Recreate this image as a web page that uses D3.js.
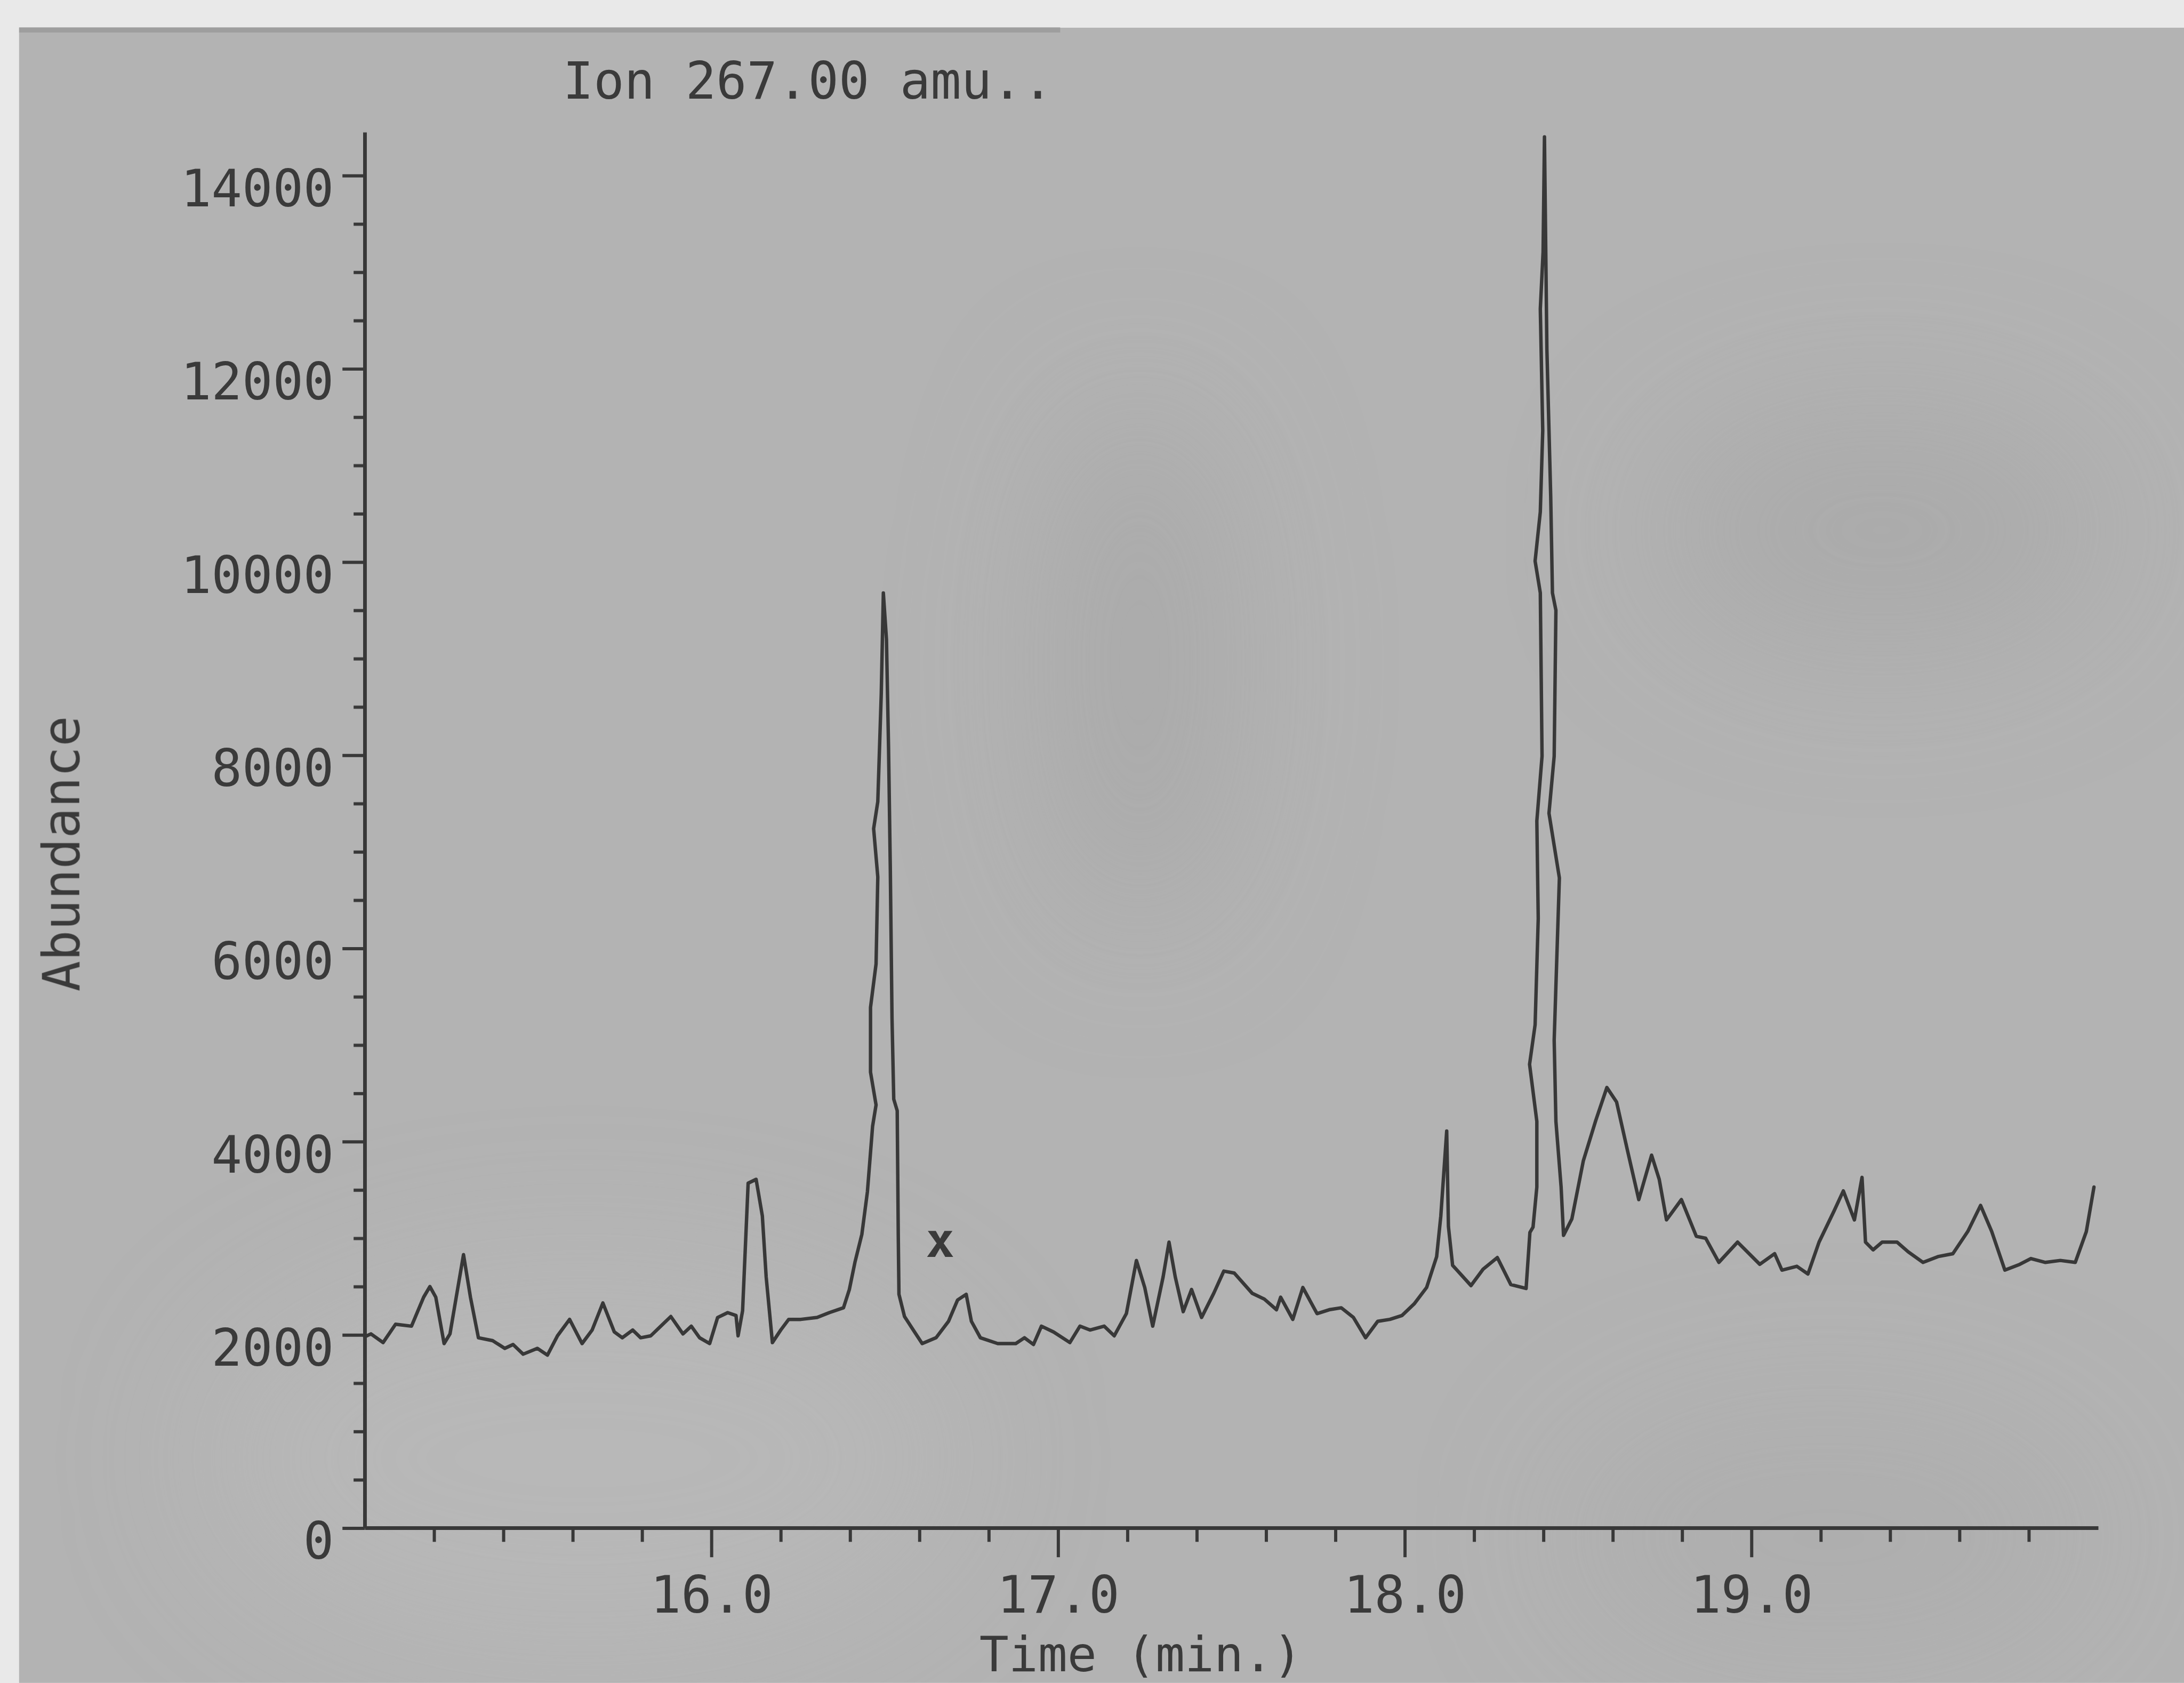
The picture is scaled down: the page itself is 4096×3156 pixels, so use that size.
<!DOCTYPE html>
<html>
<head>
<meta charset="utf-8">
<script src="https://cdn.jsdelivr.net/npm/d3@7"></script>
<style>
  html, body { margin: 0; padding: 0; background: #e9e9e9; overflow: hidden; }
  svg { display: block; }
  text { font-family: "DejaVu Sans Mono", "Liberation Mono", monospace; fill: #3a3a3a; }
</style>
</head>
<body>
<svg id="chart" width="4096" height="3156" viewBox="0 0 4120 3174"></svg>
<script>
// ---- data ----
const title = "Ion 267.00 amu..";
const xTitle = "Time (min.)";
const yTitle = "Abundance";

const time = [
  15.00, 15.018, 15.053, 15.089, 15.135, 15.17, 15.188, 15.205, 15.229, 15.246,
  15.264, 15.285, 15.305, 15.328, 15.369, 15.404, 15.428, 15.457, 15.498, 15.527,
  15.556, 15.591, 15.627, 15.656, 15.687, 15.72, 15.743, 15.773, 15.796, 15.825,
  15.854, 15.883, 15.918, 15.942, 15.966, 15.995, 16.018, 16.047, 16.071, 16.077,
  16.09, 16.106, 16.129, 16.147, 16.158, 16.176, 16.2, 16.223, 16.258, 16.305,
  16.34, 16.381, 16.398, 16.414, 16.434, 16.45, 16.465, 16.475, 16.459, 16.459,
  16.475, 16.48, 16.468, 16.48, 16.49, 16.496, 16.505, 16.511, 16.516, 16.521,
  16.526, 16.536, 16.539, 16.541, 16.557, 16.577, 16.608, 16.648, 16.684, 16.71,
  16.735, 16.75, 16.776, 16.826, 16.878, 16.903, 16.929, 16.952, 16.987, 17.034,
  17.063, 17.092, 17.133, 17.162, 17.197, 17.226, 17.25, 17.273, 17.303, 17.32,
  17.338, 17.361, 17.385, 17.414, 17.449, 17.478, 17.508, 17.56, 17.595, 17.63,
  17.642, 17.677, 17.706, 17.747, 17.782, 17.817, 17.852, 17.887, 17.922, 17.957,
  17.992, 18.027, 18.063, 18.092, 18.104, 18.121, 18.126, 18.138, 18.191, 18.226,
  18.267, 18.306, 18.35, 18.361, 18.37, 18.381, 18.381, 18.36, 18.376, 18.385,
  18.381, 18.396, 18.391, 18.376, 18.391, 18.398, 18.391, 18.399, 18.403, 18.41,
  18.421, 18.426, 18.436, 18.431, 18.416, 18.446, 18.431, 18.436, 18.451, 18.458,
  18.482, 18.515, 18.551, 18.583, 18.611, 18.643, 18.675, 18.712, 18.734, 18.755,
  18.798, 18.841, 18.868, 18.906, 18.96, 19.024, 19.067, 19.088, 19.131, 19.163,
  19.195, 19.238, 19.265, 19.297, 19.319, 19.329, 19.351, 19.377, 19.42, 19.452,
  19.495, 19.538, 19.581, 19.624, 19.661, 19.693, 19.731, 19.774, 19.806, 19.848,
  19.891, 19.934, 19.966, 19.988
];
const abundance = [
  1980, 2010, 1920, 2110, 2090, 2390, 2500, 2390, 1910, 2010,
  2390, 2830, 2390, 1970, 1940, 1860, 1900, 1800, 1860, 1790,
  1990, 2160, 1910, 2050, 2330, 2030, 1970, 2050, 1970, 1990,
  2090, 2190, 2010, 2090, 1970, 1910, 2180, 2230, 2200, 1990,
  2250, 3570, 3610, 3230, 2600, 1920, 2050, 2160, 2160, 2180,
  2230, 2280, 2470, 2750, 3040, 3480, 4160, 4380, 4720, 5390,
  5840, 6740, 7240, 7520, 8640, 9680, 9200, 8080, 6850, 5280,
  4440, 4320, 3040, 2420, 2190, 2080, 1910, 1970, 2140, 2360,
  2420, 2140, 1970, 1910, 1910, 1970, 1900, 2090, 2030, 1920,
  2090, 2050, 2090, 1990, 2220, 2770, 2490, 2090, 2600, 2960,
  2600, 2240, 2470, 2180, 2430, 2660, 2640, 2430, 2370, 2260,
  2390, 2160, 2490, 2220, 2260, 2280, 2180, 1970, 2140, 2160,
  2200, 2320, 2490, 2810, 3230, 4110, 3120, 2720, 2510, 2680,
  2800, 2520, 2480, 3060, 3115, 3530, 4210, 4800, 5210, 6310,
  7320, 7990, 9680, 10010, 10520, 11360, 12620, 13210, 14400, 12200,
  10680, 9680, 9500, 7990, 7400, 6730, 5050, 4210, 3530, 3030,
  3200, 3800, 4220, 4560, 4410, 3900, 3400, 3860, 3610, 3190,
  3400, 3020, 3000, 2750, 2960, 2730, 2840, 2670, 2710, 2630,
  2960, 3280, 3490, 3190, 3630, 2960, 2880, 2960, 2960, 2860,
  2750, 2810, 2840, 3070, 3340, 3070, 2670, 2730, 2790, 2750,
  2770, 2750, 3070, 3530
];

const yMajorTicks = [0, 2000, 4000, 6000, 8000, 10000, 12000, 14000];
const yTickLabels = ["0", "2000", "4000", "6000", "8000", "10000", "12000", "14000"];
const yMinorTicks = [500, 1000, 1500, 2500, 3000, 3500, 4500, 5000, 5500, 6500, 7000, 7500,
                     8500, 9000, 9500, 10500, 11000, 11500, 12500, 13000, 13500];
const xMajorTicks = [16, 17, 18, 19];
const xTickLabels = ["16.0", "17.0", "18.0", "19.0"];
const xMinorTicks = [15.2, 15.4, 15.6, 15.8, 16.2, 16.4, 16.6, 16.8, 17.2, 17.4, 17.6, 17.8,
                     18.2, 18.4, 18.6, 18.8, 19.2, 19.4, 19.6, 19.8];
// hand-written mark near the first large peak
const marks = [{ t: 16.66, v: 2960, label: "x" }];

// ---- drawing ----
const W = 4120, H = 3174;
const svg = d3.select("#chart");
const ink = "#383838";
const fs = 96;

// scanned page: light margin + grey paper
svg.append("rect").attr("x", 0).attr("y", 0).attr("width", W).attr("height", H).attr("fill", "#e9e9e9");
const defs = svg.append("defs");
const blur = defs.append("filter").attr("id", "soft").attr("x", "-50%").attr("y", "-50%").attr("width", "200%").attr("height", "200%");
blur.append("feGaussianBlur").attr("stdDeviation", 140);
svg.append("rect").attr("x", 36).attr("y", 52).attr("width", W - 36).attr("height", H - 52).attr("fill", "#b3b3b3");
// soft shading of the scan
const shade = svg.append("g").attr("filter", "url(#soft)");
shade.append("ellipse").attr("cx", 2150).attr("cy", 1250).attr("rx", 170).attr("ry", 500).attr("fill", "#a2a2a2").attr("opacity", 0.55);
shade.append("ellipse").attr("cx", 3550).attr("cy", 1000).attr("rx", 420).attr("ry", 230).attr("fill", "#a4a4a4").attr("opacity", 0.55);
shade.append("ellipse").attr("cx", 3450).attr("cy", 2900).attr("rx", 500).attr("ry", 250).attr("fill", "#a8a8a8").attr("opacity", 0.4);
shade.append("ellipse").attr("cx", 1100).attr("cy", 2750).attr("rx", 700).attr("ry", 350).attr("fill", "#bebebe").attr("opacity", 0.5);
svg.append("line").attr("x1", 36).attr("x2", 2000).attr("y1", 56).attr("y2", 56)
   .attr("stroke", "#8a8a8a").attr("stroke-width", 10).attr("opacity", 0.5);

const x = d3.scaleLinear().domain([15, 20]).range([688, 3958]);
const y = d3.scaleLinear().domain([0, 14450]).range([2882, 249]);

// Y axis
const yAxis = svg.append("g").attr("transform", `translate(${x(15)},0)`)
  .call(d3.axisLeft(y).tickValues(yMajorTicks).tickSize(42).tickSizeOuter(0).tickPadding(16)
        .tickFormat((d, i) => yTickLabels[i]));
yAxis.select(".domain").attr("stroke", ink).attr("stroke-width", 7);
yAxis.selectAll(".tick line").attr("stroke", ink).attr("stroke-width", 6);
yAxis.selectAll(".tick text").attr("font-size", fs).attr("dy", "0.6em")
  .attr("font-family", "DejaVu Sans Mono").attr("fill", ink);
svg.append("g").attr("transform", `translate(${x(15)},0)`)
  .call(d3.axisLeft(y).tickValues(yMinorTicks).tickSize(21).tickFormat(""))
  .call(g => g.select(".domain").remove())
  .selectAll(".tick line").attr("stroke", ink).attr("stroke-width", 6);

// X axis
const xAxis = svg.append("g").attr("transform", `translate(0,${y(0)})`)
  .call(d3.axisBottom(x).tickValues(xMajorTicks).tickSize(55).tickSizeOuter(0).tickPadding(36)
        .tickFormat((d, i) => xTickLabels[i]));
xAxis.select(".domain").attr("stroke", ink).attr("stroke-width", 7);
xAxis.selectAll(".tick line").attr("stroke", ink).attr("stroke-width", 6);
xAxis.selectAll(".tick text").attr("font-size", fs)
  .attr("font-family", "DejaVu Sans Mono").attr("fill", ink);
svg.append("g").attr("transform", `translate(0,${y(0)})`)
  .call(d3.axisBottom(x).tickValues(xMinorTicks).tickSize(26).tickFormat(""))
  .call(g => g.select(".domain").remove())
  .selectAll(".tick line").attr("stroke", ink).attr("stroke-width", 6);

// chromatogram trace
const pts = time.map((t, i) => [t, abundance[i]]);
svg.append("path").datum(pts)
  .attr("fill", "none").attr("stroke", ink).attr("stroke-width", 6.5)
  .attr("stroke-linejoin", "round").attr("stroke-linecap", "round")
  .attr("d", d3.line().x(d => x(d[0])).y(d => y(d[1])));

// mark
svg.selectAll(".mark").data(marks).enter().append("text")
  .attr("x", d => x(d.t)).attr("y", d => y(d.v) + 28)
  .attr("text-anchor", "middle").attr("font-size", 90).attr("font-weight", "bold").attr("fill", ink)
  .text(d => d.label);

// titles
svg.append("text").attr("x", 1062).attr("y", 186).attr("font-size", fs).attr("fill", ink).text(title);
svg.append("text").attr("x", 2152).attr("y", 3152).attr("text-anchor", "middle")
  .attr("font-size", 92).attr("fill", ink).text(xTitle);
svg.append("text").attr("transform", "translate(150,1610) rotate(-90)")
  .attr("text-anchor", "middle").attr("font-size", fs).attr("fill", ink).text(yTitle);
</script>
</body>
</html>
